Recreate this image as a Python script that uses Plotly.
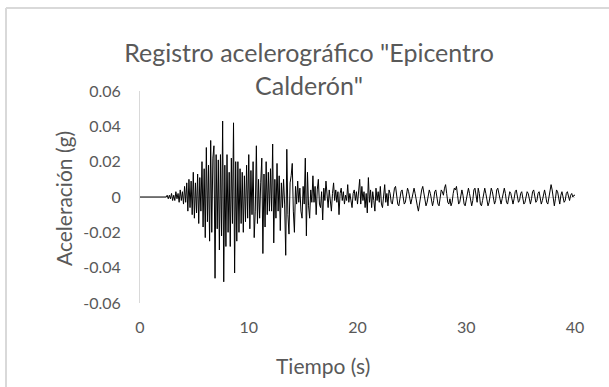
import plotly.graph_objects as go

# Acceleration record, sampled every 0.1 s (values in milli-g, one row per second)
dt = 0.1
acc_mg = [
    0, 0, 0, 0, 0, 0, 0, 0, 0, 0,
    0, 0, 0, 0, 0, 0, 0, 0, 0, 0,
    0, 0, 0, 0, 0, 1, -1, 1, -1, 2,
    -2, 1, -2, 3, -1, 2, -3, 4, -2, 3,
    -4, 6, -3, 8, -8, 10, -6, 9, -10, 14,
    -12, 8, -9, 13, -15, 11, -8, 20, -17, 16,
    -23, 28, -14, 18, -25, 32, -20, 22, 29, -46,
    24, -18, 21, -30, 24, -22, 43, -48, 18, -28,
    24, -20, 14, -28, 22, -15, 42, -43, 20, -25,
    20, -20, 16, -15, 14, -20, 12, -14, 18, -12,
    24, -18, 15, -10, 20, -23, -8, 29, -15, 10,
    -12, 8, 22, -32, 13, -17, 20, -10, 14, -8,
    16, -8, 30, -26, 10, -12, 19, -8, 12, -19,
    8, -6, 10, -4, -33, 27, -10, -21, 8, 12,
    19, -8, -20, 6, -4, 9, -3, 5, -8, -12,
    6, -4, 22, -22, 14, -5, -12, 4, -3, 12,
    -3, 6, -10, 4, 10, -4, -6, 3, -13, 5,
    -2, 9, -2, -6, 4, -3, -8, 2, 8, -2,
    4, -3, 3, -10, 2, 5, -2, 3, -4, 1,
    -2, 7, -3, 2, -4, -6, 2, 4, -2, 3,
    -4, 3, 10, -4, 6, -2, 3, -6, 2, -9,
    11, -3, 4, -6, 3, -2, -8, 5, -2, 3,
    -3, 6, -4, -6, 2, 7, -3, 2, -5, 4,
    2, -3, -4, 1, 5, 6, 1, -4, -5, -1,
    3, 4, 0, -4, -3, 2, 5, 3, -2, -4,
    -1, 3, 5, 2, -3, -5, -8, -3, 2, 4,
    6, 3, -2, -5, -3, 1, 4, 2, -3, -5,
    -2, 3, 4, 0, -4, -5, -1, 4, 3, 1,
    5, 7, 2, -3, -4, -1, -5, -3, 2, 5,
    4, 6, 1, -4, -3, 2, 4, 1, -4, -5,
    -2, 3, 5, 2, -3, -5, -2, 4, 5, 1,
    -3, 5, 2, -4, -5, -2, 3, 5, 2, -2,
    -5, -3, 2, 5, 3, -1, -4, -2, 4, 5,
    2, -3, -4, -1, 3, 5, 2, -3, -4, 0,
    3, 2, -2, -4, -1, 3, 4, 1, -3, -2,
    2, 3, -1, -4, -3, 1, 3, 2, -2, -4,
    -1, 3, 4, 0, -3, -2, 2, 3, -1, -4,
    -2, 2, 4, 1, -3, -4, 0, 3, 7, 4,
    -2, -5, -1, 4, 3, -2, -4, 1, 3, 0,
    -3, -2, 2, 3, 0, -2, 1, 2, 0, 1,
    1,
]
tiempo = [round(i * dt, 1) for i in range(len(acc_mg))]
aceleracion = [v / 1000 for v in acc_mg]

x_ticks = [0, 10, 20, 30, 40]
y_ticks = [-0.06, -0.04, -0.02, 0, 0.02, 0.04, 0.06]
y_tick_text = ["-0.06", "-0.04", "-0.02", "0", "0.02", "0.04", "0.06"]

W, H = 609, 387
L, R, T, B = 140, 34, 91, 84
pw, ph = W - L - R, H - T - B

FONT = "Lato"
GREY = "#595959"
AXIS = "#d9d9d9"

fig = go.Figure(go.Scatter(
    x=tiempo, y=aceleracion, mode="lines",
    line=dict(color="black", width=1), hoverinfo="skip",
))


def px_x(p):
    return (p - L) / pw


def px_y(p):
    return 1 - (p - T) / ph


fig.update_layout(
    width=W, height=H,
    margin=dict(l=L, r=R, t=T, b=B),
    paper_bgcolor="white", plot_bgcolor="white",
    showlegend=False,
    font=dict(family=FONT, color=GREY),
    title=dict(
        text='Registro acelerográfico "Epicentro<br>Calderón"',
        x=px_x(309), xref="paper", xanchor="center",
        y=1 - 62 / H, yanchor="middle",
        font=dict(family=FONT, size=25, color=GREY),
    ),
    xaxis=dict(
        range=[0, 40], tickvals=x_ticks, showgrid=False, zeroline=False,
        showline=False, ticks="", ticklabelstandoff=13,
        tickfont=dict(size=16, color=GREY),
    ),
    yaxis=dict(
        range=[-0.06, 0.06], tickvals=y_ticks, ticktext=y_tick_text,
        showgrid=False, zeroline=True, zerolinecolor=AXIS, zerolinewidth=1,
        showline=True, linecolor=AXIS, linewidth=1, ticks="",
        ticklabelstandoff=15, tickfont=dict(size=16, color=GREY),
    ),
    annotations=[
        dict(text="Tiempo (s)", xref="paper", yref="paper",
             x=px_x(323), y=px_y(365), xanchor="center", yanchor="middle",
             showarrow=False, font=dict(size=21, color=GREY)),
        dict(text="Aceleración (g)", xref="paper", yref="paper",
             x=px_x(63), y=px_y(199), xanchor="center", yanchor="middle",
             textangle=-90, showarrow=False, font=dict(size=21, color=GREY)),
    ],
    shapes=[
        dict(type="line", xref="paper", yref="paper",
             x0=px_x(6), x1=px_x(6), y0=px_y(8), y1=px_y(400),
             line=dict(color=AXIS, width=2)),
        dict(type="line", xref="paper", yref="paper",
             x0=px_x(6), x1=px_x(620), y0=px_y(8), y1=px_y(8),
             line=dict(color=AXIS, width=2)),
    ],
)

fig.write_html("out.html")
